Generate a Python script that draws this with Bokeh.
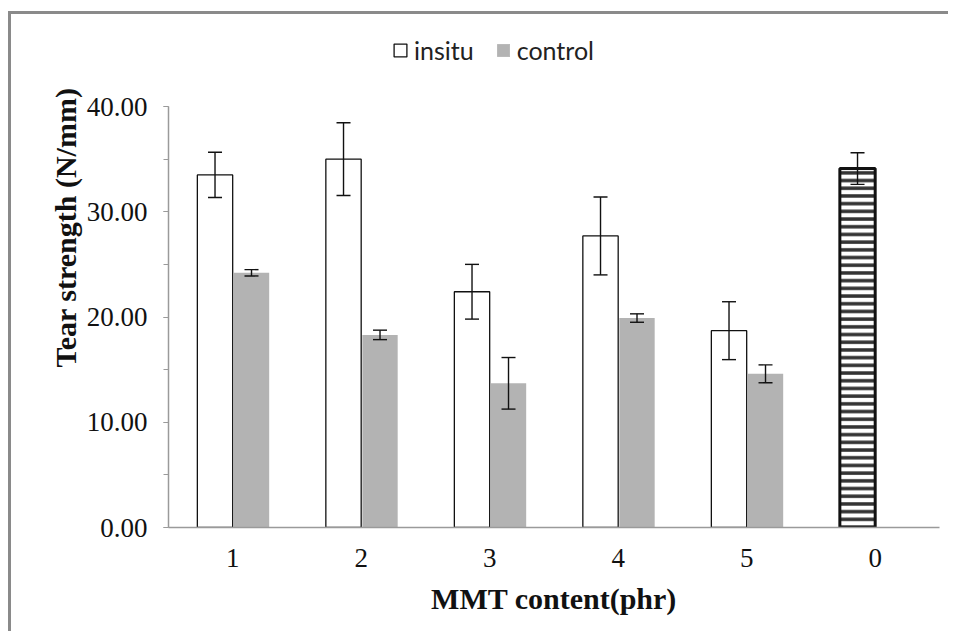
import math
from bokeh.plotting import figure
from bokeh.models import (ColumnDataSource, FactorRange, Whisker, TeeHead, Legend, LegendItem,
                          SingleIntervalTicker, NumeralTickFormatter, Title, Range1d)
from bokeh.transform import dodge
from bokeh.embed import file_html
from bokeh.resources import INLINE

# ---- data ----
categories = ["1", "2", "3", "4", "5", "0"]
mmt_cats = ["1", "2", "3", "4", "5"]
insitu = [33.5, 35.0, 22.4, 27.7, 18.7]
insitu_err = [2.15, 3.45, 2.6, 3.7, 2.75]
control = [24.2, 18.3, 13.7, 19.9, 14.6]
control_err = [0.3, 0.45, 2.45, 0.4, 0.85]
neat_cat = ["0"]
neat = [34.1]
neat_err = [1.5]
y_max = 40

src_in = ColumnDataSource(dict(x=mmt_cats, y=insitu,
                               upper=[v + e for v, e in zip(insitu, insitu_err)],
                               lower=[v - e for v, e in zip(insitu, insitu_err)]))
src_ct = ColumnDataSource(dict(x=mmt_cats, y=control,
                               upper=[v + e for v, e in zip(control, control_err)],
                               lower=[v - e for v, e in zip(control, control_err)]))
src_0 = ColumnDataSource(dict(x=neat_cat, y=neat,
                              upper=[v + e for v, e in zip(neat, neat_err)],
                              lower=[v - e for v, e in zip(neat, neat_err)]))

# layout (canvas offset by CSS margin of 11 x 14 px; a shadow draws the outer border)
W_FIG, H_FIG = 940, 620
FRAME_TOP = 16          # frame extends above the 40 line so the legend fits inside
AXIS_TOP_PX = 92        # pixel of the value 40 inside the figure
FRAME_BOTTOM = 513
FRAME_RIGHT = 928
px_per_unit = (FRAME_BOTTOM - AXIS_TOP_PX) / y_max
y_end = y_max + (AXIS_TOP_PX - FRAME_TOP) / px_per_unit

p = figure(width=W_FIG, height=H_FIG, x_range=FactorRange(*categories, range_padding=0),
           y_range=Range1d(0, y_end), output_backend="svg", toolbar_location=None,
           min_border_left=157, min_border_right=W_FIG - FRAME_RIGHT, min_border_top=FRAME_TOP,
           min_border_bottom=H_FIG - FRAME_BOTTOM)
p.styles = {"margin-left": "11px", "margin-top": "14px",
            "box-shadow": "-3px -3px 0px 0px #8a8a8a"}
p.outline_line_color = None
p.xgrid.grid_line_color = None
p.ygrid.grid_line_color = None
p.background_fill_color = "white"
p.border_fill_color = "white"

OFF_IN = -0.138
OFF_CT = 0.146
W = 0.275

r_in = p.vbar(x=dodge("x", OFF_IN, range=p.x_range), top="y", width=W, source=src_in,
              fill_color="white", line_color="#111111", line_width=1.3)
r_ct = p.vbar(x=dodge("x", OFF_CT, range=p.x_range), top="y", width=W, source=src_ct,
              fill_color="#b3b3b3", line_color=None)
r_0 = p.vbar(x=dodge("x", OFF_IN, range=p.x_range), top="y", width=W, source=src_0,
             fill_color="white", line_color="#111111", line_width=3,
             hatch_pattern="horizontal_line", hatch_color="#333333", hatch_weight=3.5, hatch_scale=7.7)

for src, off in ((src_in, OFF_IN), (src_ct, OFF_CT), (src_0, OFF_IN)):
    w = Whisker(base=dodge("x", off, range=p.x_range), upper="upper", lower="lower", source=src,
                line_color="#111111", line_width=1.4, level="overlay",
                upper_head=TeeHead(size=14, line_color="#111111", line_width=1.4),
                lower_head=TeeHead(size=14, line_color="#111111", line_width=1.4))
    p.add_layout(w)

# axes
ax = p.yaxis[0]
ax.bounds = (0, y_max)
ax.ticker = SingleIntervalTicker(interval=10, num_minor_ticks=2)
ax.formatter = NumeralTickFormatter(format="0.00")
ax.axis_line_color = "#9a9a9a"
ax.axis_line_width = 1.5
ax.major_tick_line_color = "#9a9a9a"
ax.minor_tick_line_color = "#9a9a9a"
ax.major_tick_in = 0
ax.major_tick_out = 5
ax.minor_tick_in = 0
ax.minor_tick_out = 5
ax.major_label_text_font = "Liberation Serif"
ax.major_label_text_font_size = "27px"
ax.major_label_text_color = "#111111"
ax.major_label_standoff = 16

xa = p.xaxis[0]
xa.axis_line_color = "#9a9a9a"
xa.axis_line_width = 1.5
xa.major_tick_line_color = None
xa.minor_tick_line_color = None
xa.major_label_text_font = "Liberation Serif"
xa.major_label_text_font_size = "27px"
xa.major_label_text_color = "#111111"
xa.major_label_standoff = 15
xa.axis_label = "MMT content(phr)"
xa.axis_label_text_font = "Liberation Serif"
xa.axis_label_text_font_style = "bold"
xa.axis_label_text_font_size = "30px"
xa.axis_label_text_color = "#111111"
xa.axis_label_standoff = 12

ytitle = Title(text="Tear strength (N/mm)", align="left", offset=160,
               text_font="Liberation Serif", text_font_style="bold",
               text_font_size="30px", text_color="#111111", standoff=4)
p.add_layout(ytitle, "left")

legend = Legend(items=[LegendItem(label="insitu", renderers=[r_in]),
                       LegendItem(label="control", renderers=[r_ct])],
                orientation="horizontal", location=(224, 462),
                label_text_font="Lato", label_text_font_size="25px", label_text_color="#222222",
                glyph_width=16, glyph_height=16, label_standoff=6, spacing=21,
                padding=0, margin=0, border_line_color=None, background_fill_alpha=0)
p.add_layout(legend)

open("out.html", "w").write(file_html(p, INLINE))
